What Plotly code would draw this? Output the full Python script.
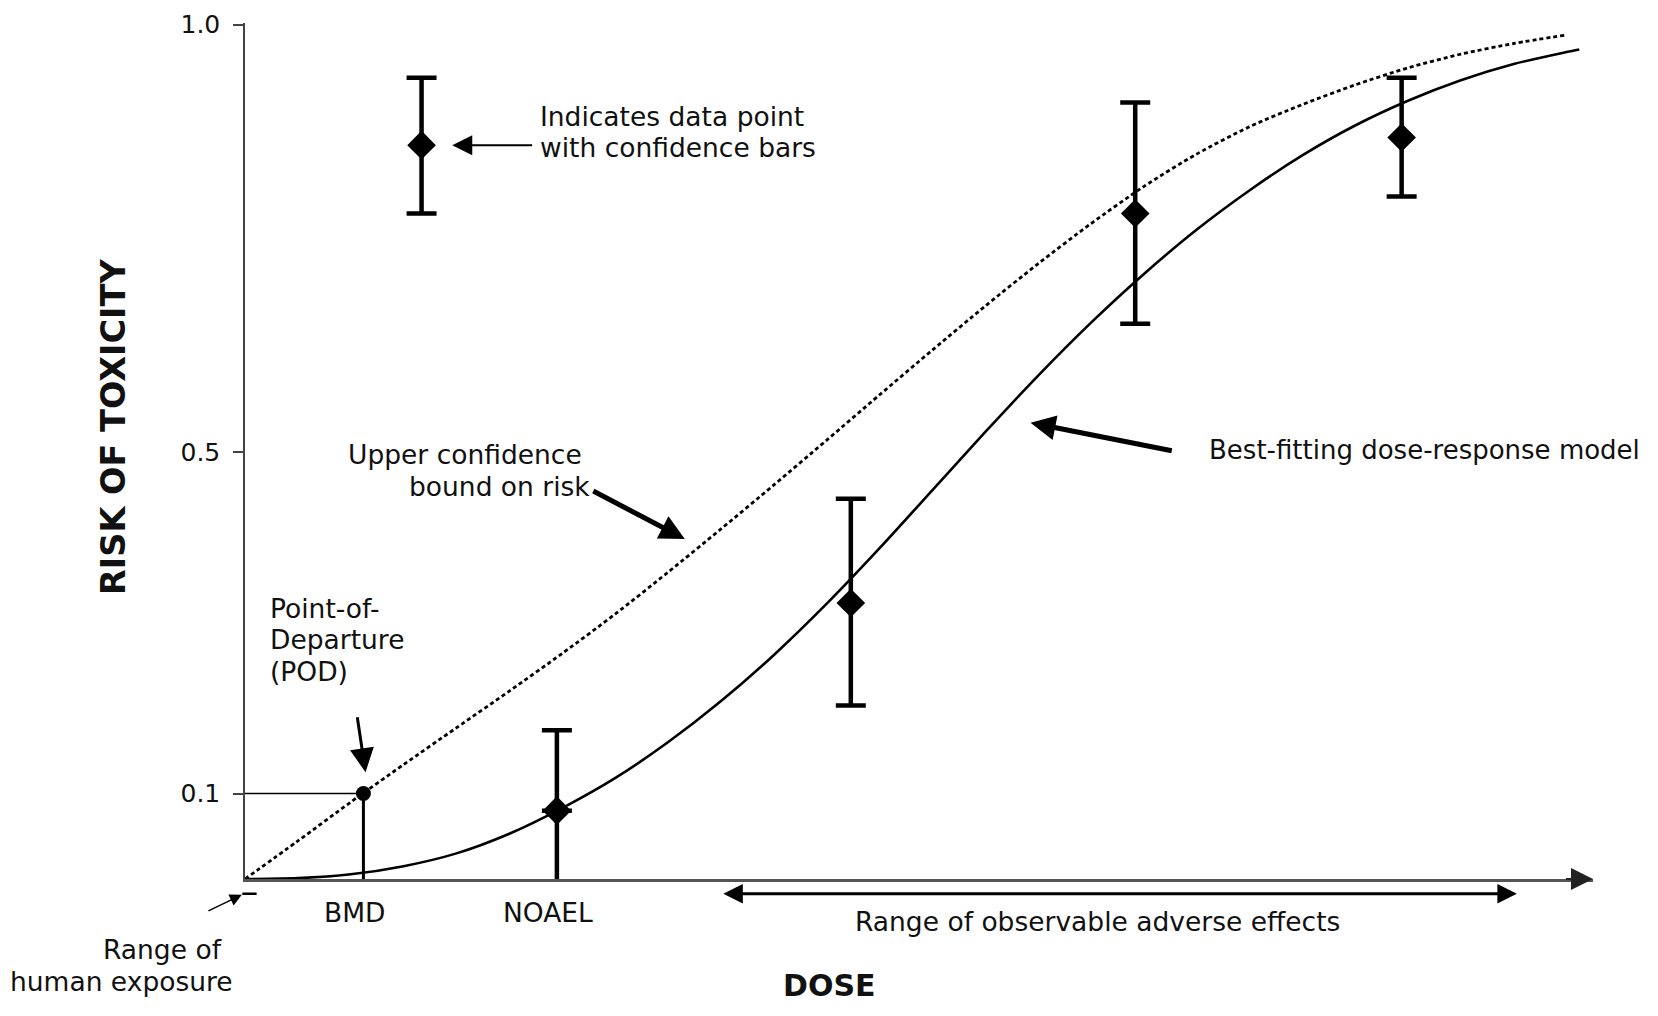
import plotly.graph_objects as go

# ---- data ----
model_dose = [0.0, 0.5, 1.0, 1.5, 2.0, 2.5, 3.0, 3.5, 4.0, 4.5, 5.0, 5.5, 6.0, 6.5, 7.0, 7.5,
              8.0, 8.5, 9.0, 9.5, 10.0, 10.5, 11.0, 11.5, 12.0, 12.5, 12.62]
model_risk = [0.0, 0.001, 0.0055, 0.015, 0.030, 0.053, 0.083, 0.118, 0.160, 0.208, 0.262, 0.322,
              0.387, 0.455, 0.523, 0.589, 0.651, 0.708, 0.760, 0.806, 0.847, 0.882, 0.911, 0.935,
              0.954, 0.968, 0.971]

ucl_dose = [0.0, 0.5, 1.0, 1.5, 2.0, 2.5, 3.0, 3.5, 4.0, 4.5, 5.0, 5.5, 6.0, 6.5, 7.0, 7.5,
            8.0, 8.5, 9.0, 9.5, 10.0, 10.5, 11.0, 11.5, 12.0, 12.5]
ucl_risk = [0.0, 0.0445, 0.090, 0.134, 0.177, 0.220, 0.264, 0.310, 0.359, 0.4095, 0.461, 0.5135,
            0.5665, 0.619, 0.6705, 0.720, 0.767, 0.8105, 0.8485, 0.8805, 0.9065, 0.9295, 0.9495,
            0.9655, 0.978, 0.988]

point_dose = [1.67, 2.95, 5.73, 8.42, 10.94]
point_risk = [0.859, 0.080, 0.323, 0.779, 0.868]
point_upper = [0.938, 0.174, 0.445, 0.909, 0.938]
point_lower = [0.779, 0.0, 0.203, 0.650, 0.799]

bmd_dose = 1.12
bmd_risk = 0.1

tick_vals = [0.1, 0.5, 1.0]
tick_text = ["0.1", "0.5", "1.0"]

X_MAX = 12.75
Y_MAX = 1.002

FONT = "DejaVu Sans"
TXT = "#111111"

W, H = 1642, 1000
ML, MR, MT, MB = 237, 57, 15, 129
PXX = (W - ML - MR) / X_MAX
PXY = (H - MT - MB) / Y_MAX

fig = go.Figure()

# best-fitting model
fig.add_trace(go.Scatter(x=model_dose, y=model_risk, mode="lines",
                         line=dict(color="black", width=2.6, shape="spline", smoothing=0.8),
                         hoverinfo="skip"))
# upper confidence bound
fig.add_trace(go.Scatter(x=ucl_dose, y=ucl_risk, mode="lines",
                         line=dict(color="black", width=2.8, dash="4px,3px", shape="spline",
                                   smoothing=0.8),
                         hoverinfo="skip"))

# error bars reaching the axis: lower part drawn as a plain line
for xd, yd, lo in zip(point_dose, point_risk, point_lower):
    if lo <= 0:
        fig.add_trace(go.Scatter(x=[xd, xd], y=[lo, yd], mode="lines",
                                 line=dict(color="black", width=4.5), hoverinfo="skip"))

err_plus = [u - y for u, y in zip(point_upper, point_risk)]
err_minus = [(y - lo) if lo > 0 else 0 for y, lo in zip(point_risk, point_lower)]
fig.add_trace(go.Scatter(
    x=point_dose, y=point_risk, mode="markers", cliponaxis=False,
    marker=dict(symbol="diamond", size=22, color="black"),
    error_y=dict(type="data", symmetric=False, array=err_plus, arrayminus=err_minus,
                 thickness=4.5, width=15, color="black")))

# BMD / POD
fig.add_trace(go.Scatter(x=[0, bmd_dose], y=[bmd_risk, bmd_risk], mode="lines",
                         line=dict(color="black", width=1.5), hoverinfo="skip"))
fig.add_trace(go.Scatter(x=[bmd_dose, bmd_dose], y=[0, bmd_risk], mode="lines",
                         line=dict(color="black", width=3), hoverinfo="skip"))
fig.add_trace(go.Scatter(x=[bmd_dose], y=[bmd_risk], mode="markers", cliponaxis=False,
                         marker=dict(symbol="circle", size=15, color="black"), hoverinfo="skip"))

ann = []


def text(t, x, y, xanchor="left", size=26.5, bold=False, angle=0):
    ann.append(dict(text=("<b>%s</b>" % t) if bold else t, x=x / X_MAX, y=y / Y_MAX,
                    xref="paper", yref="paper",
                    xanchor=xanchor, yanchor="middle", showarrow=False, textangle=angle,
                    font=dict(family=FONT, size=size, color=TXT)))


def arrow(x0, y0, x1, y1, width, size, head=2, color="black", side="end"):
    ann.append(dict(text="", x=x1 / X_MAX, y=y1 / Y_MAX, xref="paper", yref="paper",
                    ax=(x0 - x1) * PXX, ay=(y1 - y0) * PXY, axref="pixel", ayref="pixel",
                    showarrow=True, arrowhead=head, arrowsize=size, arrowwidth=width,
                    arrowcolor=color, arrowside=side, standoff=0, startstandoff=0,
                    startarrowhead=head, startarrowsize=size))


text("Indicates data point", 2.77, 0.893)
text("with confidence bars", 2.77, 0.856)
arrow(2.73, 0.859, 1.96, 0.859, 2, 2)

text("Upper confidence", 0.96, 0.497)
text("bound on risk", 1.53, 0.460)
arrow(3.28, 0.455, 4.16, 0.398, 5, 1)

text("Best-fitting dose-response model", 9.10, 0.502, size=26)
arrow(8.78, 0.501, 7.43, 0.534, 5, 1)

text("Point-of-", 0.22, 0.317)
text("Departure", 0.22, 0.280)
text("(POD)", 0.22, 0.243)
arrow(1.06, 0.191, 1.14, 0.125, 3, 1.6)

text("BMD", 1.04, -0.0395, xanchor="center")
text("NOAEL", 2.87, -0.0395, xanchor="center")

arrow(4.51, -0.0173, 12.03, -0.0173, 3, 1.3, side="end+start")
text("Range of observable adverse effects", 8.06, -0.0493, xanchor="center")

text("Range of", -1.36, -0.0826)
text("human exposure", -2.24, -0.1196)
arrow(-0.36, -0.0382, -0.03, -0.0185, 1.5, 1.6)
arrow(-0.04, -0.0173, 0.11, -0.0173, 2.5, 1, head=0)

# x-axis arrow head
arrow(12.48, 0, 12.75, 0, 2, 2.2, color="#222")

text("RISK OF TOXICITY", -1.25, 0.529, xanchor="center", size=33.5, bold=True, angle=-90)
text("DOSE", 5.53, -0.125, xanchor="center", size=30, bold=True)

fig.update_layout(
    width=W, height=H,
    margin=dict(l=ML, r=MR, t=MT, b=MB, autoexpand=False),
    paper_bgcolor="white", plot_bgcolor="white", showlegend=False,
    annotations=ann,
    xaxis=dict(range=[0, X_MAX], showline=True, linecolor="#555", linewidth=2.5,
               showgrid=False, zeroline=False, showticklabels=False, ticks="",
               automargin=False),
    yaxis=dict(range=[0, Y_MAX], showline=True, linecolor="#444", linewidth=1.5,
               showgrid=False, zeroline=False, tickvals=tick_vals, ticktext=tick_text,
               ticks="outside", ticklen=10, tickwidth=1.5, tickcolor="#444",
               ticklabelstandoff=8, ticklabeloverflow="allow", automargin=False,
               tickfont=dict(family=FONT, size=25, color=TXT)),
)

fig.write_html("out.html")
